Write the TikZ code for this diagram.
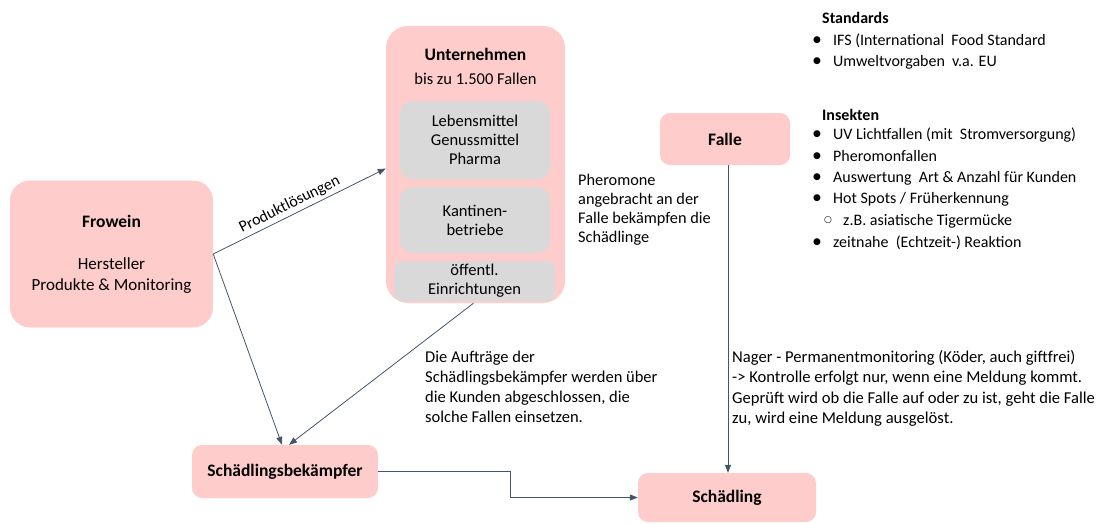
\documentclass[tikz,border=0pt]{standalone}
\usepackage{fontspec}
\setmainfont{Carlito}
\newfontfamily\symfont{DejaVu Sans}
\usetikzlibrary{arrows.meta,calc}
\definecolor{pinkbox}{HTML}{FFCCCC}
\definecolor{graybox}{HTML}{D9D9D9}
\definecolor{linec}{HTML}{44546A}
\begin{document}
\begin{tikzpicture}[x=1pt,y=-1pt,
  pbox/.style={fill=pinkbox,draw=none,rounded corners=#1,inner sep=0pt},
  gbox/.style={fill=graybox,draw=none,rounded corners=12pt,inner sep=0pt,align=center,font=\fontsize{16.5}{19}\selectfont},
  txt/.style={inner sep=0pt,font=\fontsize{16}{20}\selectfont},
  btitle/.style={font=\bfseries\fontsize{17.5}{20}\selectfont},
  conn/.style={draw=linec,line width=0.8pt,-{Triangle[length=8pt,width=6pt]}},
  bul/.style={inner sep=0pt,font=\symfont\fontsize{9}{9}\selectfont},
  ltxt/.style={inner sep=0pt,anchor=base west,font=\fontsize{16}{20}\selectfont}]
\useasboundingbox (0,0) rectangle (1112,523);

% Frowein
\node[pbox=20pt,minimum width=203pt,minimum height=147pt,align=center,font=\fontsize{17}{21}\selectfont] (frow) at (111.5,254)
  {{\bfseries\fontsize{17.5}{21}\selectfont Frowein}\\[21pt]Hersteller\\Produkte \& Monitoring};

% Unternehmen
\node[pbox=22pt,minimum width=179pt,minimum height=277pt] (unt) at (475.5,164.5) {};
\node[txt,btitle] (untt) at (475.5,54) {Unternehmen};
\node[txt,font=\fontsize{16.5}{20}\selectfont] (unts) at (475.5,79) {bis zu 1.500 Fallen};
\node[gbox,minimum width=150pt,minimum height=78pt] (leb) at (475,140) {Lebensmittel\\Genussmittel\\Pharma};
\node[gbox,minimum width=150pt,minimum height=66pt] (kant) at (475,220) {Kantinen-\\betriebe};
\node[gbox,rounded corners=8pt,minimum width=161pt,minimum height=40pt] (oeff) at (474.5,281) {öffentl.\\Einrichtungen};

% Falle
\node[pbox=10pt,minimum width=130pt,minimum height=52pt,btitle] (falle) at (725,139) {Falle};

% Schaedlingsbekaempfer
\node[pbox=10pt,minimum width=186pt,minimum height=53pt,btitle] (sb) at (285,471.5) {Schädlingsbekämpfer};

% Schaedling
\node[pbox=10pt,minimum width=178pt,minimum height=49pt,btitle] (sch) at (727,497.5) {Schädling};

% connectors
\draw[conn] (frow.east) -- ([yshift=-4pt]unt.west)
  node[pos=0.47,sloped,above=3pt,inner sep=0pt,font=\fontsize{16}{20}\selectfont] (plabel) {Produktlösungen};
\draw[conn] (frow.east) -- ([xshift=-3pt]sb.north);
\draw[conn] ([xshift=-2pt]unt.south) -- ([xshift=4pt]sb.north);
\coordinate (bend) at (510,471.5);
\draw[conn] (sb.east) -- (bend) |- (sch.west);
\draw[conn] ([xshift=3pt]falle.south) -- ([xshift=3pt]falle.south |- sch.north);

% text blocks (base anchor = baseline of the last line)
\node[txt,align=left,anchor=base west,font=\fontsize{16.3}{19}\selectfont] (phero) at (578,242.5)
  {Pheromone\\angebracht an der\\Falle bekämpfen die\\Schädlinge};
\node[txt,align=left,anchor=base west,font=\fontsize{16.5}{20}\selectfont] (auftr) at (425,422.5)
  {Die Aufträge der\\Schädlingsbekämpfer werden über\\die Kunden abgeschlossen, die\\solche Fallen einsetzen.};
\node[txt,align=left,anchor=base west,font=\fontsize{16.6}{20.3}\selectfont] (nager) at (732,423.5)
  {Nager - Permanentmonitoring (Köder, auch giftfrei)\\-> Kontrolle erfolgt nur, wenn eine Meldung kommt.\\Geprüft wird ob die Falle auf oder zu ist, geht die Falle\\zu, wird eine Meldung ausgelöst.};

% list
\node[ltxt,font=\bfseries\fontsize{16}{20}\selectfont] (std) at (822,23.5) {Standards};
\node[bul] (b1) at (817,40) {●};
\node[ltxt] (l1) at (833,45.5) {IFS (International\ \ Food Standard};
\node[bul] (b2) at (817,61) {●};
\node[ltxt] (l2) at (833,66.5) {Umweltvorgaben\ \ v.a. EU};
\node[ltxt,font=\bfseries\fontsize{16}{20}\selectfont] (ins) at (822,120.5) {Insekten};
\node[bul] (b3) at (817,134) {●};
\node[ltxt] (l3) at (833,139.5) {UV Lichtfallen (mit\ \ Stromversorgung)};
\node[bul] (b4) at (817,156) {●};
\node[ltxt] (l4) at (833,161.5) {Pheromonfallen};
\node[bul] (b5) at (817,177) {●};
\node[ltxt] (l5) at (833,182.5) {Auswertung\ \ Art \& Anzahl für Kunden};
\node[bul] (b6) at (817,198) {●};
\node[ltxt] (l6) at (833,203.5) {Hot Spots / Früherkennung};
\node[bul] (b7) at (828,220) {○};
\node[ltxt] (l7) at (843,225.5) {z.B. asiatische Tigermücke};
\node[bul] (b8) at (817,242) {●};
\node[ltxt] (l8) at (833,247.5) {zeitnahe\ \ (Echtzeit-) Reaktion};
\end{tikzpicture}
\end{document}
